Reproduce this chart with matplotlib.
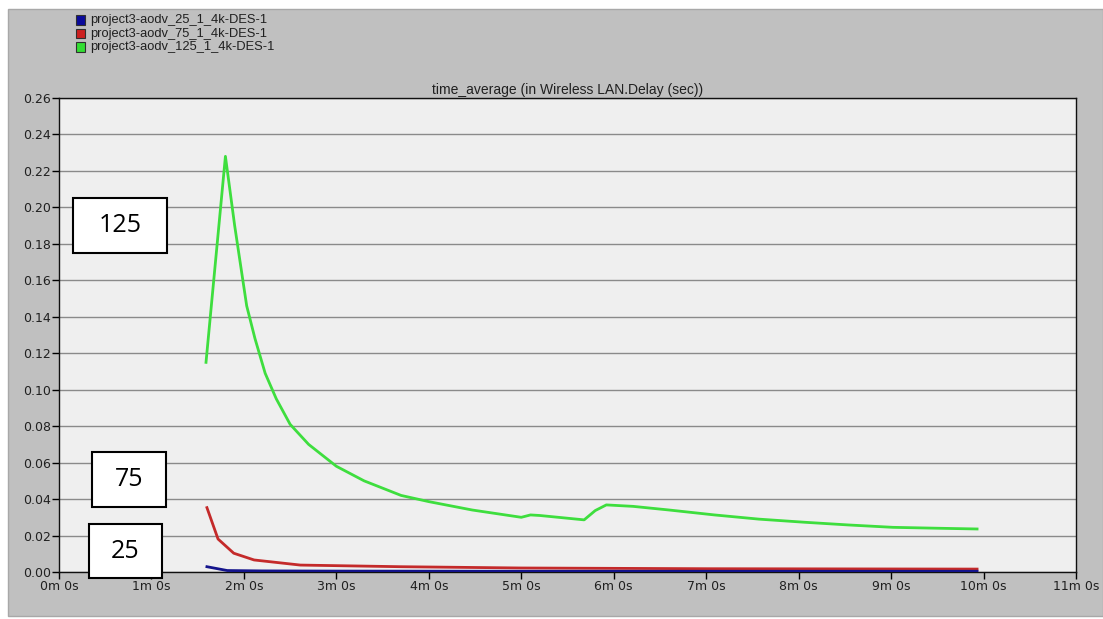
import matplotlib.pyplot as plt
from matplotlib.patches import Rectangle

# time in minutes, delay in seconds
t_125 = [1.59, 1.80, 1.90, 2.03, 2.12, 2.23, 2.35, 2.50, 2.70, 3.00, 3.30, 3.50,
         3.70, 4.00, 4.47, 5.00, 5.10, 5.20, 5.68, 5.80, 5.92, 6.21, 6.60, 7.09,
         7.57, 8.06, 8.54, 9.02, 9.51, 9.93]
d_125 = [0.115, 0.228, 0.190, 0.146, 0.128, 0.109, 0.095, 0.081, 0.070, 0.058,
         0.050, 0.046, 0.042, 0.0386, 0.034, 0.030, 0.0313, 0.031, 0.0286, 0.0337,
         0.0368, 0.036, 0.034, 0.0313, 0.029, 0.0273, 0.0258, 0.0245, 0.024, 0.0236]

t_75 = [1.60, 1.72, 1.89, 2.11, 2.61, 3.70, 5.00, 7.00, 9.93]
d_75 = [0.0353, 0.0181, 0.0103, 0.0066, 0.0038, 0.0029, 0.0022, 0.0018, 0.0016]

t_25 = [1.60, 1.82, 2.20, 3.00, 5.00, 9.93]
d_25 = [0.0029, 0.0008, 0.0006, 0.0005, 0.0004, 0.0004]

series_names = ["project3-aodv_25_1_4k-DES-1",
                "project3-aodv_75_1_4k-DES-1",
                "project3-aodv_125_1_4k-DES-1"]
series_colors = ["#0a0a9a", "#cc2020", "#33dd33"]
line_colors = ["#14148c", "#c42a2a", "#3ede3e"]

y_ticks = [i * 0.02 for i in range(14)]
y_labels = ["%.2f" % v for v in y_ticks]
x_ticks = list(range(12))
x_labels = ["%dm 0s" % m for m in x_ticks]

box_labels = ["125", "75", "25"]

W, H = 1103, 619
fig = plt.figure(figsize=(W / 100, H / 100), dpi=100)
fig.patch.set_facecolor("white")
plt.rcParams['font.family'] = ['Liberation Sans', 'DejaVu Sans']


def px_rect(x0, y0, x1, y1, **kw):
    # rectangle given in pixel coords measured from the top-left corner
    return Rectangle((x0 / W, 1 - y1 / H), (x1 - x0) / W, (y1 - y0) / H,
                     transform=fig.transFigure, **kw)


# gray window panel
fig.add_artist(px_rect(8, 9, W, 616, facecolor="#c0c0c0", edgecolor="#a8a8a8",
                       lw=1, zorder=0))

ax = fig.add_axes([59 / W, 1 - 572 / H, (1076 - 59) / W, (572 - 98) / H])
ax.set_facecolor("#efefef")
ax.set_xlim(0, 11)
ax.set_ylim(0, 0.26)
ax.set_yticks(y_ticks)
ax.set_yticklabels(y_labels)
ax.set_xticks(x_ticks)
ax.set_xticklabels(x_labels)
ax.tick_params(axis="both", direction="out", length=5, width=1, color="black",
               labelsize=9, labelcolor="#202020", pad=1)
for lbl in ax.get_xticklabels() + ax.get_yticklabels():
    lbl.set_family("DejaVu Sans")
ax.grid(axis="y", color="#8a8a8a", lw=1.0)
ax.set_axisbelow(True)
for s in ax.spines.values():
    s.set_color("#101010")
    s.set_linewidth(1)

ax.plot(t_125, d_125, color=line_colors[2], lw=2.0, zorder=3)
ax.plot(t_75, d_75, color=line_colors[1], lw=2.0, zorder=4)
ax.plot(t_25, d_25, color=line_colors[0], lw=2.0, zorder=5)

ax.set_title("time_average (in Wireless LAN.Delay (sec))", fontsize=10,
             color="#202020", pad=3)

# legend entries with small outlined squares
for i, (name, col) in enumerate(zip(series_names, series_colors)):
    yc = 20 + i * 13.5
    fig.add_artist(px_rect(76, yc - 4.5, 85, yc + 4.5, facecolor=col,
                           edgecolor="#303030", lw=0.8))
    fig.text(90 / W, 1 - yc / H, name, fontsize=9.3, color="#202020",
             va="center", ha="left")

# white annotation boxes
box_px = [(73, 198, 167, 253), (92, 452, 166, 507), (89, 524, 162, 578)]
for label, (x0, y0, x1, y1) in zip(box_labels, box_px):
    fig.add_artist(px_rect(x0, y0, x1, y1, facecolor="white", edgecolor="black",
                           lw=1.5, zorder=10))
    fig.text((x0 + x1) / 2 / W, 1 - (y0 + y1) / 2 / H, label, fontsize=18,
             family=["Open Sans", "DejaVu Sans"], ha="center", va="center",
             color="black", zorder=11)

fig.savefig("out.png", dpi=100)
